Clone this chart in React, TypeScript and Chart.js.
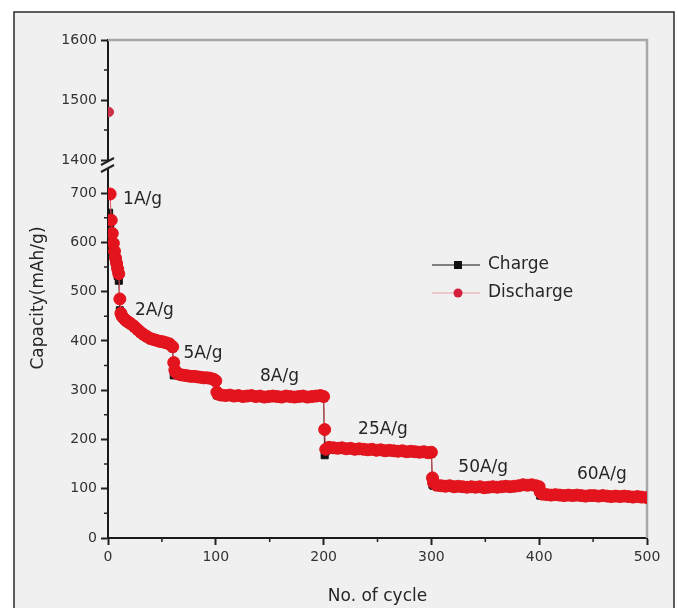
import React, { useEffect, useRef } from 'react';
import { Chart, registerables } from 'chart.js';

Chart.register(...registerables);

// ---- data ----
const cycles = [
  1, 2, 3, 4, 5, 6, 7, 8, 9, 10,
  11, 12, 13, 15, 17, 19, 21, 24, 27, 30, 33, 36, 39, 42, 45, 48, 51, 54, 57, 60,
  61, 62, 63, 65, 68, 71, 74, 77, 80, 83, 86, 89, 92, 95, 98, 100,
  101, 102, 105, 109, 113, 117, 121, 125, 129, 133, 137, 141, 145, 149, 153, 157, 161, 165, 169, 173, 177, 181, 185, 189, 193, 197, 200,
  201, 202, 205, 209, 213, 217, 221, 225, 229, 233, 237, 241, 245, 249, 253, 257, 261, 265, 269, 273, 277, 281, 285, 289, 293, 297, 300,
  301, 302, 305, 309, 313, 317, 321, 325, 329, 333, 337, 341, 345, 349, 353, 357, 361, 365, 369, 373, 377, 381, 385, 389, 393, 397, 400,
  401, 403, 407, 411, 415, 419, 423, 427, 431, 435, 439, 443, 447, 451, 455, 459, 463, 467, 471, 475, 479, 483, 487, 491, 495, 500,
];

const dischargeCapacity = [
  1480, 698, 645, 618, 598, 582, 568, 557, 546, 536,
  485, 456, 450, 445, 441, 438, 435, 430, 424, 418, 413, 409, 405, 403, 401, 399, 398, 396, 394, 388,
  356, 341, 336, 333, 331, 330, 329, 328, 328, 327, 326, 325, 325, 324, 322, 319,
  296, 292, 290, 289, 290, 288, 289, 287, 288, 289, 287, 288, 286, 287, 288, 287, 286, 288, 287, 286, 287, 288, 286, 287, 288, 289, 287,
  220, 180, 184, 183, 182, 183, 181, 182, 180, 181, 180, 179, 180, 178, 179, 177, 178, 177, 176, 177, 175, 176, 175, 174, 175, 173, 174,
  122, 112, 107, 106, 105, 106, 104, 105, 104, 103, 104, 103, 104, 102, 103, 104, 103, 104, 105, 104, 105, 106, 108, 107, 108, 106, 104,
  93, 89, 88, 87, 88, 87, 86, 87, 86, 87, 86, 85, 86, 86, 85, 86, 85, 84, 85, 84, 85, 84, 83, 84, 83, 82,
];

const chargeCapacity = [
  660, 638, 612, 594, 578, 564, 553, 543, 532, 522,
  462, 452, 447, 442, 438, 435, 432, 427, 421, 415, 410, 406, 403, 400, 398, 396, 395, 393, 391, 385,
  330, 334, 332, 330, 328, 327, 326, 325, 325, 324, 323, 322, 322, 321, 320, 316,
  290, 289, 287, 286, 287, 285, 286, 284, 285, 286, 284, 285, 283, 284, 285, 284, 283, 285, 284, 283, 284, 285, 283, 284, 285, 286, 284,
  168, 176, 180, 180, 179, 180, 178, 179, 177, 178, 177, 176, 177, 175, 176, 174, 175, 174, 173, 174, 172, 173, 172, 171, 172, 170, 171,
  108, 106, 104, 103, 102, 103, 101, 102, 101, 100, 101, 100, 101, 99, 100, 101, 100, 101, 102, 101, 102, 103, 105, 104, 105, 103, 101,
  86, 86, 85, 84, 85, 84, 83, 84, 83, 84, 83, 82, 83, 83, 82, 83, 82, 81, 82, 81, 82, 81, 80, 81, 80, 79,
];

const xTicks = [0, 100, 200, 300, 400, 500];
const lowerTicks = [0, 100, 200, 300, 400, 500, 600, 700];
const upperTicks = [1400, 1500, 1600];
const xMinorTicks = [50, 150, 250, 350, 450];
const lowerMinorTicks = [50, 150, 250, 350, 450, 550, 650];
const upperMinorTicks = [1450, 1550];

const rateLabels = ['1A/g', '2A/g', '5A/g', '8A/g', '25A/g', '50A/g', '60A/g'];
const rateLabelCycle = [14, 25, 70, 141, 232, 325, 435];
const rateLabelCapacity = [686, 462, 375, 327, 219, 142, 128];

const seriesNames = ['Charge', 'Discharge'];

const LOWER_MAX = 767;
const UPPER_MIN = 1400;
const UPPER_MAX = 1600;
const BREAK_VALUE = 1000;

const FONT = '"DejaVu Sans", Arial, sans-serif';
const W = 678;
const H = 608;

const RED = '#e3141d';
const RED_LINE = '#e6555c';
const BLACK = '#111111';
const TEXT = '#262626';

const decorPlugin = {
  id: 'decor',
  beforeDraw(chart: any) {
    const ctx = chart.ctx;
    ctx.save();
    ctx.fillStyle = '#ffffff';
    ctx.fillRect(0, 0, W, H);
    ctx.fillStyle = '#f0f0f0';
    ctx.fillRect(14, 12, 660, 620);
    ctx.strokeStyle = '#2a2a2a';
    ctx.lineWidth = 1.5;
    ctx.strokeRect(14, 12, 660, 620);
    ctx.restore();
  },
  beforeDatasetsDraw(chart: any) {
    const ctx = chart.ctx;
    const a = chart.chartArea;
    ctx.save();
    ctx.strokeStyle = '#a8a8a8';
    ctx.lineWidth = 2.5;
    ctx.beginPath();
    ctx.moveTo(a.left, a.top);
    ctx.lineTo(a.right, a.top);
    ctx.lineTo(a.right, a.bottom);
    ctx.stroke();
    ctx.restore();
  },
  afterDraw(chart: any) {
    const ctx = chart.ctx;
    const a = chart.chartArea;
    const xs = chart.scales.x;
    const ys = chart.scales.y;
    const yt = chart.scales.yTop;
    ctx.save();

    // minor ticks
    ctx.strokeStyle = '#222';
    ctx.lineWidth = 1.5;
    ctx.beginPath();
    xMinorTicks.forEach((v) => {
      const px = xs.getPixelForValue(v);
      ctx.moveTo(px, a.bottom);
      ctx.lineTo(px, a.bottom + 4);
    });
    lowerMinorTicks.forEach((v) => {
      const py = ys.getPixelForValue(v);
      ctx.moveTo(a.left, py);
      ctx.lineTo(a.left - 4, py);
    });
    upperMinorTicks.forEach((v) => {
      const py = yt.getPixelForValue(v);
      ctx.moveTo(a.left, py);
      ctx.lineTo(a.left - 4, py);
    });
    ctx.stroke();

    // axis break marks
    const by = yt.bottom + 6;
    ctx.fillStyle = '#f0f0f0';
    ctx.beginPath();
    ctx.moveTo(a.left - 7, by - 1);
    ctx.lineTo(a.left + 6, by - 8);
    ctx.lineTo(a.left + 6, by - 1);
    ctx.lineTo(a.left - 7, by + 6);
    ctx.closePath();
    ctx.fill();
    ctx.strokeStyle = '#222';
    ctx.lineWidth = 2;
    ctx.beginPath();
    ctx.moveTo(a.left - 7, by - 1);
    ctx.lineTo(a.left + 6, by - 8);
    ctx.moveTo(a.left - 7, by + 6);
    ctx.lineTo(a.left + 6, by - 1);
    ctx.stroke();

    // rate labels
    ctx.fillStyle = TEXT;
    ctx.font = `17px ${FONT}`;
    ctx.textAlign = 'left';
    ctx.textBaseline = 'middle';
    rateLabels.forEach((t, i) => {
      ctx.fillText(t, xs.getPixelForValue(rateLabelCycle[i]), ys.getPixelForValue(rateLabelCapacity[i]));
    });

    // legend
    const lx0 = 432;
    const lx1 = 480;
    const lmx = 458;
    const ly = [265, 293];
    ctx.lineWidth = 1.2;
    ctx.strokeStyle = BLACK;
    ctx.beginPath();
    ctx.moveTo(lx0, ly[0]);
    ctx.lineTo(lx1, ly[0]);
    ctx.stroke();
    ctx.fillStyle = BLACK;
    ctx.fillRect(lmx - 4, ly[0] - 4, 8, 8);
    ctx.strokeStyle = '#eaa0a4';
    ctx.beginPath();
    ctx.moveTo(lx0, ly[1]);
    ctx.lineTo(lx1, ly[1]);
    ctx.stroke();
    ctx.fillStyle = '#d4203a';
    ctx.beginPath();
    ctx.arc(lmx, ly[1], 4.5, 0, Math.PI * 2);
    ctx.fill();
    ctx.fillStyle = TEXT;
    ctx.font = `17px ${FONT}`;
    ctx.textAlign = 'left';
    ctx.textBaseline = 'middle';
    ctx.fillText(seriesNames[0], 488, ly[0]);
    ctx.fillText(seriesNames[1], 488, ly[1]);

    // axis titles
    ctx.textAlign = 'center';
    ctx.fillText('No. of cycle', (a.left + a.right) / 2, 597);
    ctx.translate(39, 298);
    ctx.rotate(-Math.PI / 2);
    ctx.fillText('Capacity(mAh/g)', 0, 0);

    ctx.restore();
  },
};

const tickFont = { family: FONT, size: 14 };
const plainLabel = (v: any) => String(v);

export default function App() {
  const ref = useRef<HTMLCanvasElement | null>(null);

  useEffect(() => {
    document.body.style.margin = '0';
    const canvas = ref.current;
    if (!canvas) return;

    const dischargeAll = cycles.map((c, i) => ({ x: c, y: dischargeCapacity[i] }));
    const dischargeLow = dischargeAll.filter((p) => p.y < BREAK_VALUE);
    const dischargeHigh = dischargeAll.filter((p) => p.y >= BREAK_VALUE);
    const charge = cycles.map((c, i) => ({ x: c, y: chargeCapacity[i] }));

    const chart = new Chart(canvas, {
      type: 'line',
      data: {
        datasets: [
          {
            label: seriesNames[1],
            data: dischargeLow,
            yAxisID: 'y',
            borderColor: RED_LINE,
            borderWidth: 1,
            pointStyle: 'circle',
            pointRadius: 6,
            pointBackgroundColor: RED,
            pointBorderColor: RED,
            pointBorderWidth: 1,
            order: 0,
          },
          {
            label: seriesNames[1] + ' (upper)',
            data: dischargeHigh,
            yAxisID: 'yTop',
            showLine: false,
            pointStyle: 'circle',
            pointRadius: 4.5,
            pointBackgroundColor: '#cc3048',
            pointBorderColor: '#cc3048',
            order: 1,
          },
          {
            label: seriesNames[0],
            data: charge,
            yAxisID: 'y',
            borderColor: BLACK,
            borderWidth: 1,
            pointStyle: 'rect',
            pointRadius: 5,
            pointBackgroundColor: BLACK,
            pointBorderColor: BLACK,
            order: 2,
          },
        ],
      },
      options: {
        responsive: false,
        animation: false,
        layout: { padding: { top: 40, right: 31, left: 0, bottom: 0 } },
        plugins: {
          legend: { display: false },
          tooltip: { enabled: false },
        },
        scales: {
          x: {
            type: 'linear',
            position: 'bottom',
            min: 0,
            max: 500,
            afterBuildTicks: (s: any) => {
              s.ticks = xTicks.map((v) => ({ value: v }));
            },
            afterFit: (s: any) => {
              s.height = 70;
            },
            grid: { drawOnChartArea: false, tickLength: 7, tickColor: '#222', tickWidth: 2 },
            border: { color: '#1a1a1a', width: 2 },
            ticks: { font: tickFont, color: '#333', padding: 4, maxRotation: 0, callback: plainLabel },
          },
          yTop: {
            type: 'linear',
            position: 'left',
            stack: 'cap',
            stackWeight: 120,
            weight: 1,
            min: UPPER_MIN,
            max: UPPER_MAX,
            afterBuildTicks: (s: any) => {
              s.ticks = upperTicks.map((v) => ({ value: v }));
            },
            afterFit: (s: any) => {
              s.width = 108;
            },
            grid: { drawOnChartArea: false, tickLength: 7, tickColor: '#222', tickWidth: 2 },
            border: { color: '#1a1a1a', width: 2 },
            ticks: { font: tickFont, color: '#333', padding: 4, callback: plainLabel },
          },
          y: {
            type: 'linear',
            position: 'left',
            stack: 'cap',
            stackWeight: 378,
            weight: 0,
            min: 0,
            max: LOWER_MAX,
            afterBuildTicks: (s: any) => {
              s.ticks = lowerTicks.map((v) => ({ value: v }));
            },
            afterFit: (s: any) => {
              s.width = 108;
            },
            grid: { drawOnChartArea: false, tickLength: 7, tickColor: '#222', tickWidth: 2 },
            border: { color: '#1a1a1a', width: 2 },
            ticks: { font: tickFont, color: '#333', padding: 4, callback: plainLabel },
          },
        },
      },
      plugins: [decorPlugin],
    } as any);

    return () => chart.destroy();
  }, []);

  return (
    <div style={{ position: 'absolute', left: 0, top: 0, width: W, height: H }}>
      <canvas ref={ref} width={W} height={H} />
    </div>
  );
}
